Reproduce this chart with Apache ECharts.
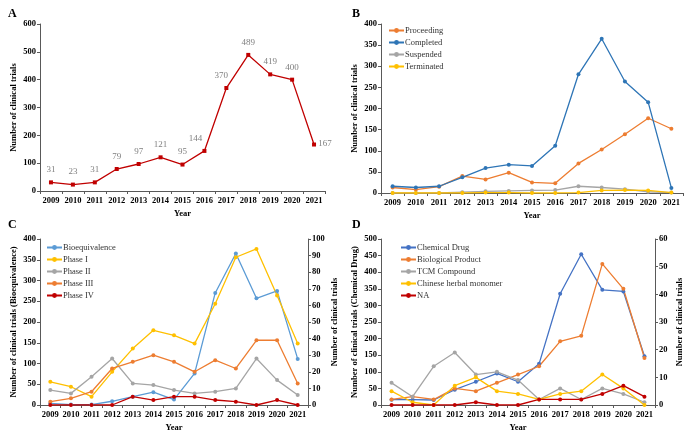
<!DOCTYPE html>
<html>
<head>
<meta charset="utf-8">
<script src="https://cdn.jsdelivr.net/npm/echarts@6/dist/echarts.min.js"></script>
<style>
  html, body { margin: 0; padding: 0; background: #fff; }
  #chart { width: 685px; height: 433px; }
</style>
</head>
<body>
<div id="chart"></div>
<script>
const years = ['2009', '2010', '2011', '2012', '2013', '2014', '2015', '2016', '2017', '2018', '2019', '2020', '2021']

// A - all trials
const totalTrials = [31, 23, 31, 79, 97, 121, 95, 144, 370, 489, 419, 400, 167]

// B - by status
const proceeding = [13, 8, 15, 40, 32, 48, 25, 23, 70, 103, 139, 177, 152]
const completed = [16, 13, 16, 37, 59, 67, 64, 112, 281, 365, 264, 215, 12]
const suspended = [0, 0, 0, 2, 4, 5, 6, 7, 16, 13, 9, 3, 1]
const terminated = [0, 0, 0, 0, 1, 1, 0, 0, 1, 6, 7, 6, 1]

// C - by phase (BE on left axis, phases on right axis)
const bioequivalence = [4, 1, 1, 9, 20, 31, 13, 76, 270, 365, 257, 275, 111]
const phase1 = [14, 11, 5, 20, 34, 45, 42, 37, 61, 89, 94, 66, 37]
const phase2 = [9, 7, 17, 28, 13, 12, 9, 7, 8, 10, 28, 15, 6]
const phase3 = [2, 4, 8, 22, 26, 30, 26, 20, 27, 22, 39, 39, 13]
const phase4 = [0, 0, 0, 0, 5, 3, 5, 5, 3, 2, 0, 3, 0]

// D - by drug type (chemical on left axis, others on right)
const chemicalDrug = [16, 16, 15, 46, 70, 95, 70, 124, 335, 454, 347, 342, 147]
const biological = [2, 3, 2, 6, 5, 8, 11, 14, 23, 25, 51, 42, 17]
const tcmCompound = [8, 3, 14, 19, 11, 12, 9, 2, 6, 2, 6, 4, 1]
const herbalMonomer = [5, 1, 0, 7, 10, 5, 4, 2, 4, 5, 11, 6, 0]
const naType = [0, 0, 0, 0, 1, 0, 0, 2, 2, 2, 4, 7, 3]

const FONT = '"Liberation Serif", "Times New Roman", serif'
const axisColor = '#595959'

function xAxisFor(gridIndex) {
  return {
    type: 'category',
    gridIndex: gridIndex,
    data: years,
    name: 'Year',
    nameLocation: 'middle',
    nameGap: 18,
    nameTextStyle: { fontFamily: FONT, fontWeight: 'bold', fontSize: 8.5, color: '#000' },
    axisLine: { lineStyle: { color: axisColor, width: 1 } },
    axisTick: { show: true, length: 3, lineStyle: { color: axisColor } },
    axisLabel: { fontFamily: FONT, fontWeight: 'bold', fontSize: 8.5, color: '#000', margin: 5, interval: 0 }
  }
}

function yAxisFor(gridIndex, max, interval, name, position, nameGap) {
  return {
    type: 'value',
    gridIndex: gridIndex,
    position: position,
    min: 0,
    max: max,
    interval: interval,
    name: name,
    nameLocation: 'middle',
    nameRotate: 90,
    nameGap: nameGap,
    nameTextStyle: { fontFamily: FONT, fontWeight: 'bold', fontSize: 8.5, color: '#000' },
    axisLine: { show: true, lineStyle: { color: axisColor, width: 1 } },
    axisTick: { show: true, length: 3, lineStyle: { color: axisColor } },
    axisLabel: { fontFamily: FONT, fontWeight: 'bold', fontSize: 8.5, color: '#000', margin: 4 },
    splitLine: { show: false }
  }
}

function line(name, data, color, xi, yi, extra) {
  return Object.assign({
    name: name,
    type: 'line',
    xAxisIndex: xi,
    yAxisIndex: yi,
    data: data,
    symbol: 'circle',
    symbolSize: 4,
    lineStyle: { color: color, width: 1.3 },
    itemStyle: { color: color },
    emphasis: { disabled: true },
    animation: false
  }, extra || {})
}

function legendFor(names, left, top) {
  return {
    data: names,
    orient: 'vertical',
    left: left,
    top: top,
    itemWidth: 15,
    itemHeight: 6,
    itemGap: 3,
    padding: 0,
    textStyle: { fontFamily: FONT, fontSize: 8.5, color: '#333', padding: [0, 0, 0, -4] }
  }
}

const letter = (txt, left, top) => ({
  text: txt, left: left, top: top, padding: 0,
  textStyle: { fontFamily: FONT, fontWeight: 'bold', fontSize: 12, color: '#000' }
})

// label nudges for panel A (as in the original figure)
const labelShift = { 7: { dx: -9 }, 8: { dx: -5 }, 12: { dx: 11, dy: 12 } }

const chart = echarts.init(document.getElementById('chart'), null, { renderer: 'canvas' })

const option = {
  backgroundColor: '#fff',
  title: [letter('A', 8, 8), letter('B', 352, 8), letter('C', 8, 219), letter('D', 352, 219)],
  legend: [
    legendFor(['Proceeding', 'Completed', 'Suspended', 'Terminated'], 388, 26),
    legendFor(['Bioequivalence', 'Phase I', 'Phase II', 'Phase III', 'Phase IV'], 46, 243),
    legendFor(['Chemical Drug', 'Biological Product', 'TCM Compound', 'Chinese herbal monomer', 'NA'], 400, 243)
  ],
  grid: [
    { left: 40, right: 360, top: 24, bottom: 242 },
    { left: 381, right: 2, top: 24, bottom: 240 },
    { left: 40, right: 377, top: 239, bottom: 26 },
    { left: 381, right: 30, top: 239, bottom: 25 }
  ],
  xAxis: [xAxisFor(0), xAxisFor(1), xAxisFor(2), xAxisFor(3)],
  yAxis: [
    yAxisFor(0, 600, 100, 'Number of clinical trials', 'left', 22),
    yAxisFor(1, 400, 50, 'Number of clinical trials', 'left', 22),
    yAxisFor(2, 400, 50, 'Number of clinical trials (Bioequivalence)', 'left', 22),
    yAxisFor(2, 100, 10, 'Number of clinical trials', 'right', 22),
    yAxisFor(3, 500, 50, 'Number of clinical trials (Chemical Drug)', 'left', 22),
    yAxisFor(3, 60, 10, 'Number of clinical trials', 'right', 20)
  ],
  series: [
    line('Total', totalTrials, '#C00000', 0, 0, {
      symbol: 'rect',
      label: {
        show: true,
        position: 'top',
        distance: 6,
        fontFamily: FONT,
        fontSize: 9,
        color: '#7F7F7F',
        formatter: p => p.value
      },
      labelLayout: p => labelShift[p.dataIndex] || {}
    }),
    line('Proceeding', proceeding, '#ED7D31', 1, 1),
    line('Completed', completed, '#2E75B6', 1, 1),
    line('Suspended', suspended, '#A5A5A5', 1, 1),
    line('Terminated', terminated, '#FFC000', 1, 1),
    line('Bioequivalence', bioequivalence, '#5B9BD5', 2, 2),
    line('Phase I', phase1, '#FFC000', 2, 3),
    line('Phase II', phase2, '#A5A5A5', 2, 3),
    line('Phase III', phase3, '#ED7D31', 2, 3),
    line('Phase IV', phase4, '#C00000', 2, 3),
    line('Chemical Drug', chemicalDrug, '#4472C4', 3, 4),
    line('Biological Product', biological, '#ED7D31', 3, 5),
    line('TCM Compound', tcmCompound, '#A5A5A5', 3, 5),
    line('Chinese herbal monomer', herbalMonomer, '#FFC000', 3, 5),
    line('NA', naType, '#C00000', 3, 5)
  ]
}

chart.setOption(option)
</script>
</body>
</html>
